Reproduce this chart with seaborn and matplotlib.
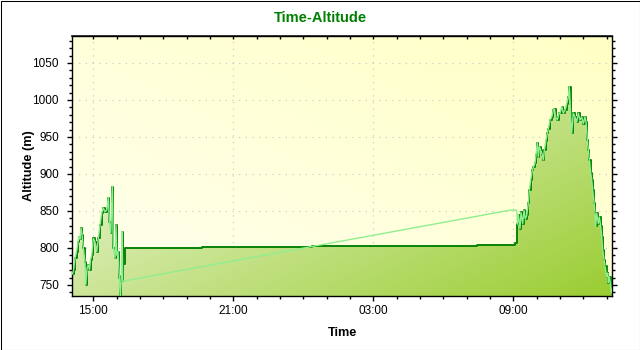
import numpy as np
import pandas as pd
import matplotlib
matplotlib.use("Agg")
import matplotlib.pyplot as plt
import matplotlib.dates as mdates
from matplotlib.ticker import MultipleLocator
from matplotlib.colors import to_rgb
from matplotlib.patches import Rectangle
import seaborn as sns

# Track samples: minutes after 14:00 on the first day, altitude in metres.
leg1_min = [6.4, 9.0, 12.9, 16.7, 20.6, 23.1, 25.7, 28.3, 30.9, 34.2, 38.6, 40.6,
            43.7, 47.1, 50.1, 52.7, 55.8, 60.0, 64.3, 68.7, 72.8, 77.1, 81.5, 85.6,
            90.0, 94.4, 98.5, 101.1, 104.7, 108.8, 111.4, 115.7, 118.3, 120.1, 123.4,
            126.8, 129.4, 131.9, 133.7, 135.5]
leg1_alt = [765, 770, 786, 795, 808, 815, 812, 827, 818, 800, 781, 750,
            772, 777, 770, 784, 790, 813, 808, 795, 813, 831, 847, 854,
            849, 851, 868, 835, 820, 883, 800, 786, 831, 790, 795,
            760, 733, 762, 822, 755]

# GPS fix resumes after the overnight gap
gps_gap_min = [1131.4, 1148.7]
gps_gap_alt = [851, 851]

# Logger altitude held through the overnight stop
hold_min = [137.1, 141.4, 338.7, 621.5, 711.5, 1045.8, 1145.0]
hold_alt = [778, 800.4, 801.8, 802.5, 803.1, 804.5, 806]

leg2_min = [1150.2, 1152.8, 1157.1, 1159.7, 1164.1, 1167.4, 1170.8, 1174.4, 1178.5,
            1181.1, 1184.7, 1188.8, 1191.4, 1195.8, 1198.3, 1201.7, 1204.2, 1206.8,
            1210.4, 1214.5, 1217.1, 1219.7, 1223.3, 1227.4, 1229.9, 1234.3, 1238.7,
            1242.8, 1245.4, 1249.0, 1253.1, 1257.5, 1260.0, 1264.4, 1268.5, 1272.9,
            1277.2, 1281.4, 1283.9, 1287.5, 1290.1, 1294.2, 1298.6, 1302.9, 1307.1,
            1311.4, 1315.8, 1319.9, 1324.3, 1326.8, 1330.2, 1332.8, 1335.4, 1339.0,
            1341.5, 1344.1, 1347.5, 1350.0, 1351.8, 1354.4, 1358.5, 1361.1, 1364.7,
            1367.2, 1369.8, 1373.2, 1375.7, 1380.1, 1382.7, 1384.2, 1386.8, 1390.4,
            1393.0]
leg2_alt = [832, 845, 826, 848, 833, 851, 839, 844, 861,
            878, 892, 905, 909, 915, 926, 942, 923, 937,
            932, 926, 919, 932, 944, 955, 961, 973, 977,
            986, 988, 977, 973, 982, 982, 991, 982, 986,
            995, 1004, 1018, 977, 955, 982, 977, 970, 982,
            973, 977, 968, 977, 970, 946, 932, 919, 901,
            892, 878, 861, 847, 829, 847, 833, 842, 829,
            815, 797, 784, 775, 761, 766, 753, 761, 748,
            739]

Y_MIN, Y_MAX = 735, 1086.5
X_START_MIN, X_END_MIN = 5.9, 1393.7

base = pd.Timestamp("2024-06-01 14:00")


def stamps(minutes):
    return base + pd.to_timedelta(np.asarray(minutes, dtype=float), unit="min")


gps = pd.DataFrame({"time": stamps(leg1_min + gps_gap_min + leg2_min),
                    "alt": leg1_alt + gps_gap_alt + leg2_alt})
logger = pd.DataFrame({"time": stamps(leg1_min + hold_min + leg2_min),
                       "alt": leg1_alt + hold_alt + leg2_alt})

sns.set_theme(style="ticks")
plt.rcParams["font.family"] = ["Liberation Sans", "DejaVu Sans"]

W, H = 640, 350
fig = plt.figure(figsize=(W / 100, H / 100), dpi=100)
fig.patch.set_facecolor("white")
ax = fig.add_axes([72.3 / W, 54 / H, 539.7 / W, 260 / H])

sns.lineplot(data=logger, x="time", y="alt", drawstyle="steps-post", color="#008000",
             linewidth=1.35, estimator=None, sort=False, ax=ax, zorder=3)
sns.lineplot(data=gps, x="time", y="alt", color="#90ee90", linewidth=1.0,
             estimator=None, sort=False, ax=ax, zorder=4)

x0 = mdates.date2num(stamps([X_START_MIN])[0])
x1 = mdates.date2num(stamps([X_END_MIN])[0])

# chart background gradient
gw, gh = 540, 260
u = np.linspace(0, 1, gw)[None, :]
v = np.linspace(0, 1, gh)[:, None]          # 0 at top
tb = np.clip((u + (1 - v)) / 2, 0, 1)
cb0, cb1 = np.array(to_rgb("#fffff0")), np.array(to_rgb("#ffffc4"))
bg = cb0 + (cb1 - cb0) * tb[..., None]
ax.imshow(bg, extent=[x0, x1, Y_MIN, Y_MAX], origin="upper", aspect="auto",
          interpolation="bilinear", zorder=0)

# area under the logger trace, white -> yellow-green at 45 degrees
poly = ax.fill_between(mdates.date2num(logger["time"]), logger["alt"], Y_MIN,
                       step="post", facecolor="none", edgecolor="none")
tf = np.clip((u + v) / 2, 0, 1)
cf0, cf1 = np.array(to_rgb("white")), np.array(to_rgb("yellowgreen"))
fillimg = cf0 + (cf1 - cf0) * tf[..., None]
im = ax.imshow(fillimg, extent=[x0, x1, Y_MIN, Y_MAX], origin="upper", aspect="auto",
               interpolation="bilinear", zorder=1)
im.set_clip_path(poly.get_paths()[0], transform=ax.transData)

ax.set_xlim(x0, x1)
ax.set_ylim(Y_MIN, Y_MAX)

ax.xaxis.set_major_locator(mdates.HourLocator(byhour=[3, 9, 15, 21]))
ax.xaxis.set_minor_locator(mdates.HourLocator())
ax.xaxis.set_major_formatter(mdates.DateFormatter("%H:%M"))
ax.yaxis.set_major_locator(MultipleLocator(50))
ax.yaxis.set_minor_locator(MultipleLocator(10))

ax.grid(True, which="major", color="#c4c4c4", linestyle=(0, (1, 5)), linewidth=0.8)
ax.set_axisbelow(True)

for s in ax.spines.values():
    s.set_color("black")
    s.set_linewidth(1.0)
    s.set_visible(True)

ax.tick_params(axis="x", which="major", direction="out", length=3.6, width=1,
               color="black", labelsize=8.5, labelcolor="black", pad=3)
ax.tick_params(axis="x", which="minor", direction="out", length=2.2, width=1, color="black")
ax.tick_params(axis="y", which="major", direction="out", length=3.6, width=1,
               color="black", labelsize=8.5, labelcolor="black", pad=6,
               left=True, right=True)
ax.tick_params(axis="y", which="minor", direction="out", length=2.2, width=1,
               color="black", left=True, right=True)

top = ax.secondary_xaxis("top")
top.xaxis.set_major_locator(mdates.HourLocator(byhour=[3, 9, 15, 21]))
top.xaxis.set_minor_locator(mdates.HourLocator())
top.tick_params(which="both", direction="in", length=2.2, width=1, color="black",
                labeltop=False)

ax.set_xlabel("Time", fontsize=9.2, fontweight="bold", color="black")
ax.set_ylabel("Altitude (m)", fontsize=9.2, fontweight="bold", color="black")
ax.xaxis.set_label_coords(0.5, (296 - 327.5) / 260)
ax.yaxis.set_label_coords((35 - 72.3) / 539.7, 0.5)

fig.text(0.5, 1 - 18 / H, "Time-Altitude", ha="center", va="center",
         fontsize=10.5, fontweight="bold", color="#008000")

fig.patches.append(Rectangle((0.5 / W, 0.5 / H), (W - 1) / W, (H - 1) / H,
                             transform=fig.transFigure, fill=False,
                             edgecolor="black", linewidth=0.75))

fig.savefig("out.png", dpi=100)
